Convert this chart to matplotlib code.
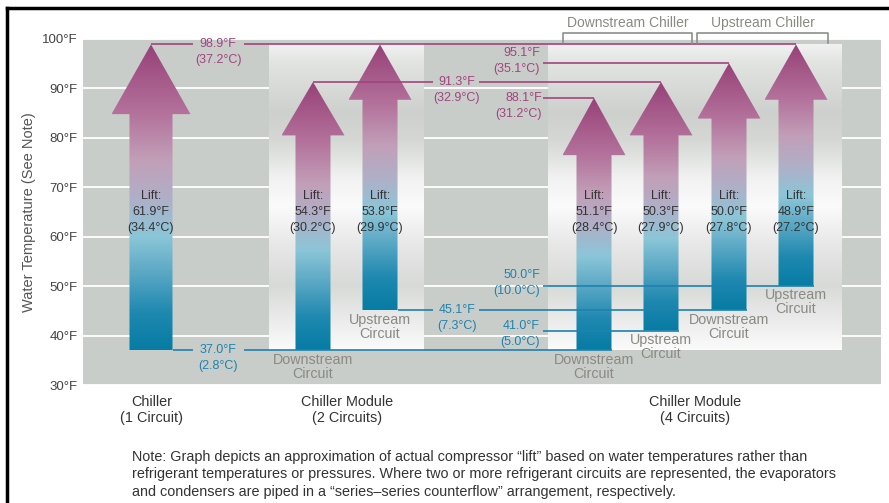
import numpy as np
import matplotlib.pyplot as plt
from matplotlib.colors import LinearSegmentedColormap
from matplotlib.patches import Polygon
from matplotlib.lines import Line2D

plt.rcParams['font.family'] = ['Liberation Sans', 'DejaVu Sans']

# groups and circuits, left to right
groups = ['Chiller\n(1 Circuit)', 'Chiller Module\n(2 Circuits)', 'Chiller Module\n(4 Circuits)']
circuits = ['', 'Downstream\nCircuit', 'Upstream\nCircuit',
            'Downstream\nCircuit', 'Upstream\nCircuit', 'Downstream\nCircuit', 'Upstream\nCircuit']
water_low = [37.0, 37.0, 45.1, 37.0, 41.0, 45.1, 50.0]     # °F, arrow bottom
water_high = [98.9, 91.3, 98.9, 88.1, 91.3, 95.1, 98.9]    # °F, arrow tip
lift_f = [61.9, 54.3, 53.8, 51.1, 50.3, 50.0, 48.9]
lift_c = [34.4, 30.2, 29.9, 28.4, 27.9, 27.8, 27.2]
yticks = [30, 40, 50, 60, 70, 80, 90, 100]
chillers = ['Downstream Chiller', 'Upstream Chiller']

def to_c(f):
    return (f - 32) * 5 / 9

# layout (x in pixels from the left edge of the plot area)
arrow_x = [68, 230, 297, 511, 578, 646, 713]
shaft_w = [43, 35, 35, 35, 35, 35, 35]
head_w = [79, 63, 63, 63, 63, 63, 63]
head_h = [14.1, 10.8, 11.2, 11.6, 10.8, 11.2, 11.2]
group_x = [69, 264, 612]
panels = [(186, 341), (465, 759)]

magenta = '#a1447f'
blue = '#1f82ae'
textc = '#333333'
graytxt = '#8a8a82'

fig = plt.figure(figsize=(8.89, 5.03), dpi=100)
ax = fig.add_axes([83 / 889, 118 / 503, 798 / 889, 346 / 503])
ax.set_facecolor('#c9cdca')

grad = np.linspace(0, 1, 256).reshape(-1, 1)

# white "cylinder" panels behind the modules
panel_cmap = LinearSegmentedColormap.from_list('panel', [
    (0.0, '#fbfbfb'), (0.11, '#e8e9e8'), (0.21, '#d8dad8'), (0.34, '#e6e7e6'),
    (0.47, '#fbfbfb'), (0.565, '#f0f1f0'), (0.69, '#d4d7d4'), (0.775, '#cdd0cd'),
    (0.94, '#e2e4e2'), (1.0, '#f0f1f0')])
lo_all, hi_all = min(water_low), max(water_high)
for x0, x1 in panels:
    ax.imshow(grad, cmap=panel_cmap, extent=[x0, x1, lo_all, hi_all],
              origin='lower', aspect='auto', zorder=1)

# lift arrows
lift_cmap = LinearSegmentedColormap.from_list('lift', [
    (0.0, '#077ca4'), (0.12, '#1e88b0'), (0.26, '#5eaac6'), (0.37, '#8bc6d8'),
    (0.5, '#b0afc7'), (0.62, '#c29fb8'), (0.77, '#b4739c'), (1.0, '#974178')])
for i, (x, lo, hi) in enumerate(zip(arrow_x, water_low, water_high)):
    sw, hw = shaft_w[i] / 2, head_w[i] / 2
    base = hi - head_h[i]
    verts = [(x - sw, lo), (x + sw, lo), (x + sw, base), (x + hw, base),
             (x, hi), (x - hw, base), (x - sw, base)]
    poly = Polygon(verts, closed=True, facecolor='none', edgecolor='none')
    ax.add_patch(poly)
    im = ax.imshow(grad, cmap=lift_cmap, extent=[x - hw, x + hw, lo, hi],
                   origin='lower', aspect='auto', zorder=2)
    im.set_clip_path(poly)
    ax.text(x, 65, f'Lift:\n{lift_f[i]:.1f}°F\n({lift_c[i]:.1f}°C)', ha='center', va='center',
            fontsize=9, color=textc, linespacing=1.4, zorder=5)
    if circuits[i]:
        ax.text(x, lo - 3.3, circuits[i], ha='center', va='center', fontsize=10.3,
                color=graytxt, linespacing=1.0, zorder=5)

# temperature call-outs
def callout(temp, color, tx, ha, dy, segs):
    for x0, x1 in segs:
        ax.plot([x0, x1], [temp, temp], color=color, lw=1.2, zorder=4,
                solid_capstyle='butt')
    ax.text(tx, temp + dy, f'{temp:.1f}°F', ha=ha, va='center', fontsize=9, color=color, zorder=5)
    ax.text(tx, temp + dy - 3.2, f'({to_c(temp):.1f}°C)', ha=ha, va='center', fontsize=9,
            color=color, zorder=5)

def edge(i):
    return arrow_x[i] + shaft_w[i] / 2

callout(water_high[0], magenta, 135, 'center', 0, [(arrow_x[0], 110), (161, arrow_x[6])])
callout(water_high[1], magenta, 374, 'center', 0, [(arrow_x[1], 350), (396, arrow_x[4])])
callout(water_high[5], magenta, 457, 'right', 2.0, [(460, arrow_x[5])])
callout(water_high[3], magenta, 459, 'right', 0, [(460, arrow_x[3])])
callout(water_low[0], blue, 135, 'center', 0, [(edge(0), 110), (161, edge(3))])
callout(water_low[2], blue, 374, 'center', 0, [(edge(2), 350), (396, edge(5))])
callout(water_low[6], blue, 457, 'right', 2.2, [(460, edge(6))])
callout(water_low[4], blue, 457, 'right', 1.0, [(460, edge(4))])

# chiller brackets above the 4-circuit module
for name, (a, b) in zip(chillers, [(3, 4), (5, 6)]):
    x0 = arrow_x[a] - (31 if a == 3 else 32)
    x1 = arrow_x[b] + (31 if b == 4 else 32)
    ax.plot([x0, x0, x1, x1], [99.2, 101.2, 101.2, 99.2], color='#8f8f88', lw=1.2,
            clip_on=False, zorder=5)
    ax.text((x0 + x1) / 2, 103.2, name, ha='center', va='center', fontsize=10,
            color=graytxt, clip_on=False)

# group labels
for gx, g in zip(group_x, groups):
    ax.text(gx, 25.0, g, ha='center', va='center', fontsize=10.4, color=textc,
            linespacing=1.2, clip_on=False)

ax.set_xlim(0, 798)
ax.set_ylim(30, 100)
ax.set_yticks(yticks)
ax.set_yticklabels([f'{t}°F' for t in yticks])
ax.tick_params(axis='y', length=0, pad=4, labelsize=9.5, labelcolor='#444444')
ax.set_xticks([])
for s in ax.spines.values():
    s.set_visible(False)
ax.yaxis.grid(True, color='white', lw=1.3)
ax.set_axisbelow(True)
ax.set_ylabel('Water Temperature (See Note)', fontsize=10.5, color='#555555', labelpad=4)

note = ('Note: Graph depicts an approximation of actual compressor “lift” based on water temperatures rather than\n'
        'refrigerant temperatures or pressures. Where two or more refrigerant circuits are represented, the evaporators\n'
        'and condensers are piped in a “series–series counterflow” arrangement, respectively.')
fig.text(132 / 889, 1 - 450 / 503, note, ha='left', va='top', fontsize=10.4, color=textc,
         linespacing=1.3)

# frame lines at top and left
fig.add_artist(Line2D([7 / 889, 7 / 889], [0, 1 - 8 / 503], color='black', lw=2.5))
fig.add_artist(Line2D([7 / 889, 1], [1 - 8 / 503, 1 - 8 / 503], color='black', lw=2.5))

fig.savefig('out.png', dpi=100)
